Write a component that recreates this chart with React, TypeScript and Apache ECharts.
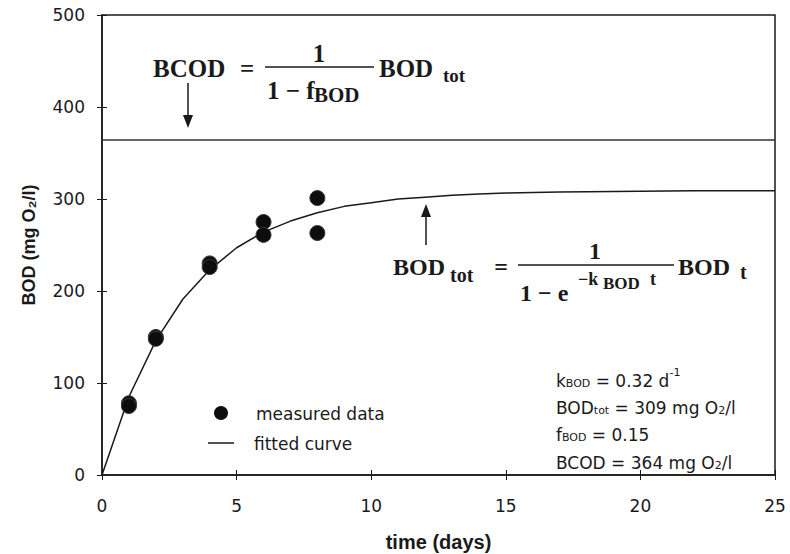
import React, { useEffect, useRef } from "react";
import * as echarts from "echarts";

// measured BOD data (days, mg O2/l)
const measuredT = [1, 1, 2, 2, 4, 4, 6, 6, 8, 8];
const measuredBOD = [78, 75, 150, 148, 230, 226, 275, 261, 301, 263];

// fitted curve
const curveT = [0, 1, 2, 3, 4, 5, 6, 7, 8, 9, 10, 11, 12, 13, 14, 15, 16, 17, 18, 20, 22, 25];
const curveBOD = [0, 85, 146, 191, 223, 247, 264, 276, 285, 292, 296, 300, 302, 304, 305.5, 306.5, 307, 307.5, 308, 308.5, 309, 309];

// BCOD level
const bcodT = [0, 25];
const bcodBOD = [364, 364];

const xMin = 0, xMax = 25, xStep = 5;
const yMin = 0, yMax = 500, yStep = 100;

const SANS = "DejaVu Sans";
const BOLDSANS = "Liberation Sans";
const SERIF = "Liberation Serif";
const INK = "#1a1a1a";

export default function App() {
  const ref = useRef<HTMLDivElement>(null);
  useEffect(() => {
    if (!ref.current) return;
    const chart = echarts.init(ref.current, undefined, { renderer: "svg" });
    const eqFont = (size: number) => `bold ${size}px "${SERIF}"`;
    const t = (text: string, x: number, y: number, font: string, align = "left") => ({
      type: "text",
      x,
      y,
      silent: true,
      style: { text, font, fill: INK, textAlign: align, textVerticalAlign: "middle" },
    });
    const arrowDown = (x: number, y1: number, y2: number) => [
      { type: "line", shape: { x1: x, y1, x2: x, y2: y2 - 10 }, style: { stroke: INK, lineWidth: 1.5 } },
      { type: "polygon", shape: { points: [[x - 5, y2 - 13], [x + 5, y2 - 13], [x, y2]] }, style: { fill: INK } },
    ];
    const arrowUp = (x: number, yTip: number, y2: number) => [
      { type: "line", shape: { x1: x, y1: yTip + 10, x2: x, y2 }, style: { stroke: INK, lineWidth: 1.5 } },
      { type: "polygon", shape: { points: [[x - 5, yTip + 13], [x + 5, yTip + 13], [x, yTip]] }, style: { fill: INK } },
    ];
    const annoRich = {
      a: { fontFamily: SANS, fontSize: 17, lineHeight: 22, fill: INK, verticalAlign: "bottom" },
      s: { fontFamily: SANS, fontSize: 11, lineHeight: 14, fill: INK, verticalAlign: "bottom" },
      p: { fontFamily: SANS, fontSize: 11, lineHeight: 22, fill: INK, verticalAlign: "top", padding: [0, 0, 8, 0] },
    };
    const anno = (text: string, y: number) => ({
      type: "text",
      x: 556,
      y,
      silent: true,
      style: { text, rich: annoRich, textAlign: "left", textVerticalAlign: "middle", fill: INK },
    });

    chart.setOption({
      animation: false,
      grid: {
        left: 102,
        right: 15,
        top: 15,
        bottom: 79,
        containLabel: false,
        outerBoundsMode: "none",
        show: true,
        borderColor: INK,
        borderWidth: 1.5,
        backgroundColor: "transparent",
      },
      xAxis: [
        {
          type: "value",
          min: xMin,
          max: xMax,
          interval: xStep,
          position: "bottom",
          name: "time (days)",
          nameLocation: "middle",
          nameGap: 57,
          nameTextStyle: { fontFamily: BOLDSANS, fontWeight: "bold", fontSize: 20, color: INK },
          axisLine: { lineStyle: { color: INK, width: 1.5 } },
          axisTick: { length: 5, lineStyle: { color: INK, width: 1 } },
          axisLabel: { margin: 22, fontFamily: SANS, fontSize: 17, color: INK },
          splitLine: { show: false },
        },
        {
          type: "value",
          min: xMin,
          max: xMax,
          interval: xStep,
          position: "bottom",
          axisLine: { show: false },
          axisTick: { inside: true, length: 5, lineStyle: { color: INK, width: 1 } },
          axisLabel: { show: false },
          splitLine: { show: false },
        },
      ],
      yAxis: [
        {
          type: "value",
          min: yMin,
          max: yMax,
          interval: yStep,
          position: "left",
          name: "BOD (mg O₂/l)",
          nameLocation: "middle",
          nameRotate: 90,
          nameGap: 64,
          nameTextStyle: { fontFamily: BOLDSANS, fontWeight: "bold", fontSize: 18, color: INK },
          axisLine: { show: true, lineStyle: { color: INK, width: 1.5 } },
          axisTick: { show: true, length: 5, lineStyle: { color: INK, width: 1 } },
          axisLabel: { margin: 17, fontFamily: SANS, fontSize: 17, color: INK },
          splitLine: { show: false },
        },
        {
          type: "value",
          min: yMin,
          max: yMax,
          interval: yStep,
          position: "left",
          axisLine: { show: false },
          axisTick: { show: true, inside: true, length: 5, lineStyle: { color: INK, width: 1 } },
          axisLabel: { show: false },
          splitLine: { show: false },
        },
      ],
      series: [
        {
          name: "BCOD",
          type: "line",
          data: bcodT.map((x, i) => [x, bcodBOD[i]]),
          showSymbol: false,
          lineStyle: { color: "#333", width: 1.5 },
          silent: true,
        },
        {
          name: "fitted curve",
          type: "line",
          data: curveT.map((x, i) => [x, curveBOD[i]]),
          showSymbol: false,
          lineStyle: { color: INK, width: 1.5 },
          silent: true,
        },
        {
          name: "measured data",
          type: "scatter",
          data: measuredT.map((x, i) => [x, measuredBOD[i]]),
          symbol: "circle",
          symbolSize: 15,
          itemStyle: { color: "#0d0d0d", opacity: 1, borderColor: "#3a3a3a", borderWidth: 1 },
          z: 5,
        },
      ],
      graphic: [
        // BCOD equation
        t("BCOD", 153, 68, eqFont(25)),
        t("=", 247, 68, eqFont(25), "center"),
        { type: "line", shape: { x1: 265, y1: 67, x2: 374, y2: 67 }, style: { stroke: INK, lineWidth: 1.5 } },
        t("1", 319, 53, eqFont(25), "center"),
        t("1 − f", 267, 90, eqFont(25)),
        t("BOD", 314, 95, eqFont(21)),
        t("BOD", 379, 68, eqFont(25)),
        t("tot", 443, 75, eqFont(19)),
        ...arrowDown(188, 83, 128),
        // BOD_tot equation
        t("BOD", 393, 267, eqFont(24)),
        t("tot", 450, 275, eqFont(20)),
        t("=", 501, 267, eqFont(24), "center"),
        { type: "line", shape: { x1: 518, y1: 265, x2: 674, y2: 265 }, style: { stroke: INK, lineWidth: 1.5 } },
        t("1", 595, 251, eqFont(24), "center"),
        t("1 − e", 520, 293, eqFont(24)),
        t("−k", 578, 279, eqFont(18)),
        t("BOD", 603, 283, eqFont(17)),
        t("t", 650, 279, eqFont(18)),
        t("BOD", 678, 267, eqFont(24)),
        t("t", 740, 272, eqFont(20)),
        ...arrowUp(426, 204, 245),
        // legend
        { type: "circle", shape: { cx: 221, cy: 413, r: 7 }, style: { fill: "#0d0d0d" } },
        t("measured data", 256, 414, `17px "${SANS}"`),
        { type: "line", shape: { x1: 208, y1: 443, x2: 234, y2: 443 }, style: { stroke: INK, lineWidth: 1.5 } },
        t("fitted curve", 254, 444, `17px "${SANS}"`),
        // parameter box
        anno("{a|k}{s|BOD}{a| = 0.32 d}{p|-1}", 378),
        anno("{a|BOD}{s|tot}{a| = 309 mg O}{s|2}{a|/l}", 405),
        anno("{a|f}{s|BOD}{a| = 0.15}", 432),
        anno("{a|BCOD = 364 mg O}{s|2}{a|/l}", 460),
      ],
    });
    return () => chart.dispose();
  }, []);
  return <div ref={ref} style={{ width: 790, height: 554, position: "absolute", left: 0, top: 0 }} />;
}
